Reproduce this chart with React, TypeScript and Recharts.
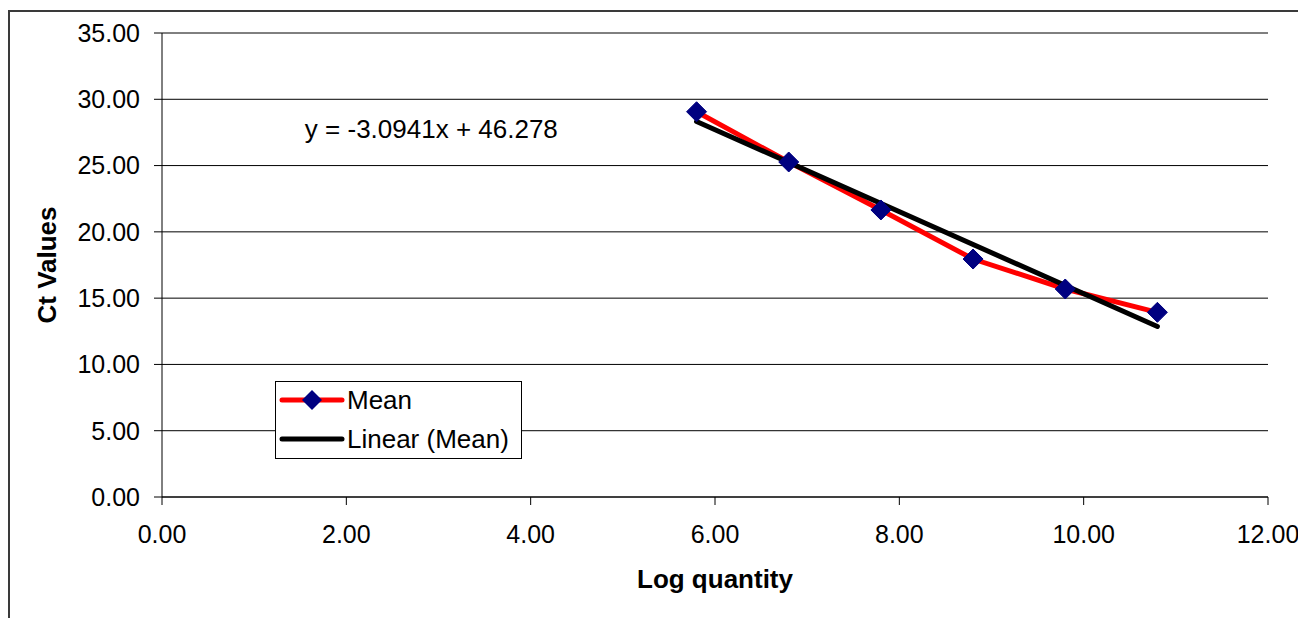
import React from "react";
import {
  ComposedChart,
  Line,
  XAxis,
  YAxis,
  CartesianGrid,
  ReferenceDot,
  Label,
} from "recharts";

const logQuantity = [5.8, 6.8, 7.8, 8.8, 9.8, 10.8];
const meanCt = [29.06, 25.27, 21.65, 17.95, 15.69, 13.93];
const trendX = [5.8, 10.8];
const trendY = [28.33, 12.86];
const xTicks = [0, 2, 4, 6, 8, 10, 12];
const yTicks = [0, 5, 10, 15, 20, 25, 30, 35];
const seriesNames = ["Mean", "Linear (Mean)"];
const equationText = "y = -3.0941x + 46.278";
const equationAnchor = { x: 1.55, y: 27.08 };
const xTitle = "Log quantity";
const yTitle = "Ct Values";

const meanData = logQuantity.map((x, i) => ({ x, mean: meanCt[i] }));
const trendData = trendX.map((x, i) => ({ x, trend: trendY[i] }));

const FONT = '"Liberation Sans", Arial, sans-serif';
const RED = "#FF0000";
const NAVY = "#000080";

const Diamond = (props: any) => {
  const { cx, cy, index } = props;
  if (cx == null || cy == null) return <g key={`d-${index}`} />;
  const h = 10;
  return (
    <polygon
      key={`d-${index}`}
      points={`${cx},${cy - h} ${cx + h},${cy} ${cx},${cy + h} ${cx - h},${cy}`}
      fill={NAVY}
      stroke={NAVY}
      strokeWidth={1}
    />
  );
};

const fmt = (v: number) => v.toFixed(2);

export default function App() {
  return (
    <div
      style={{
        position: "fixed",
        left: 0,
        top: 0,
        width: 1298,
        height: 618,
        overflow: "hidden",
        background: "#fff",
      }}
    >
      <div
        style={{
          position: "absolute",
          left: 8,
          top: 10,
          width: 1290,
          height: 608,
          borderLeft: "2px solid #3a3a3a",
          borderTop: "2px solid #3a3a3a",
          boxSizing: "border-box",
          pointerEvents: "none",
        }}
      />
      <div style={{ position: "absolute", left: 8, top: 8 }}>
        <ComposedChart
          width={1290}
          height={610}
          margin={{ top: 25, right: 30, bottom: 0, left: 0 }}
        >
          <CartesianGrid
            horizontal={true}
            vertical={false}
            stroke="#000"
            strokeWidth={1}
          />
          <XAxis
            type="number"
            dataKey="x"
            domain={[0, 12]}
            ticks={xTicks}
            tickFormatter={fmt}
            allowDataOverflow
            height={121}
            tickSize={8}
            tickMargin={20}
            stroke="#000"
            tick={{ fill: "#000", fontSize: 25, fontFamily: FONT }}
            tickLine={{ stroke: "#000" }}
            axisLine={{ stroke: "#000" }}
          >
            <Label
              content={(p: any) => {
                const vb = p.viewBox || { x: 154, y: 489, width: 1106, height: 121 };
                return (
                  <text
                    x={vb.x + vb.width / 2}
                    y={vb.y + 91}
                    textAnchor="middle"
                    fontFamily={FONT}
                    fontSize={26}
                    fontWeight="bold"
                    fill="#000"
                  >
                    {xTitle}
                  </text>
                );
              }}
            />
          </XAxis>
          <YAxis
            type="number"
            domain={[0, 35]}
            ticks={yTicks}
            tickFormatter={fmt}
            allowDataOverflow
            width={154}
            tickSize={8}
            tickMargin={14}
            stroke="#000"
            tick={{ fill: "#000", fontSize: 25, fontFamily: FONT }}
            tickLine={{ stroke: "#000" }}
            axisLine={{ stroke: "#000" }}
          >
            <Label
              content={(p: any) => {
                const vb = p.viewBox || { x: 0, y: 25, width: 154, height: 464 };
                const cx = vb.x + 48;
                const cy = vb.y + vb.height / 2;
                return (
                  <text
                    x={cx}
                    y={cy}
                    textAnchor="middle"
                    fontFamily={FONT}
                    fontSize={26}
                    fontWeight="bold"
                    fill="#000"
                    transform={`rotate(-90, ${cx}, ${cy})`}
                  >
                    {yTitle}
                  </text>
                );
              }}
            />
          </YAxis>
          <Line
            data={meanData}
            dataKey="mean"
            name={seriesNames[0]}
            type="linear"
            stroke={RED}
            strokeWidth={5}
            dot={Diamond}
            activeDot={false}
            isAnimationActive={false}
          />
          <Line
            data={trendData}
            dataKey="trend"
            name={seriesNames[1]}
            type="linear"
            stroke="#000"
            strokeWidth={5}
            strokeLinecap="round"
            dot={false}
            activeDot={false}
            isAnimationActive={false}
          />
          <ReferenceDot
            x={equationAnchor.x}
            y={equationAnchor.y}
            r={0}
            fill="none"
            stroke="none"
            label={(p: any) => {
              const vb = p.viewBox || {};
              return (
                <text
                  x={vb.x}
                  y={vb.y}
                  textAnchor="start"
                  fontFamily={FONT}
                  fontSize={26}
                  fill="#000"
                >
                  {equationText}
                </text>
              );
            }}
          />
        </ComposedChart>
      </div>
      <div
        style={{
          position: "absolute",
          left: 275,
          top: 381,
          width: 247,
          height: 78,
          background: "#fff",
          border: "1px solid #000",
          boxSizing: "border-box",
        }}
      >
        <svg width={245} height={76} style={{ display: "block" }}>
          <line x1={6} y1={18} x2={66} y2={18} stroke={RED} strokeWidth={5} strokeLinecap="round" />
          <polygon points="36,8 46,18 36,28 26,18" fill={NAVY} />
          <text x={71} y={27} fontFamily={FONT} fontSize={26} fill="#000">
            {seriesNames[0]}
          </text>
          <line x1={6} y1={57} x2={66} y2={57} stroke="#000" strokeWidth={5} strokeLinecap="round" />
          <text x={71} y={66} fontFamily={FONT} fontSize={26} fill="#000">
            {seriesNames[1]}
          </text>
        </svg>
      </div>
    </div>
  );
}
